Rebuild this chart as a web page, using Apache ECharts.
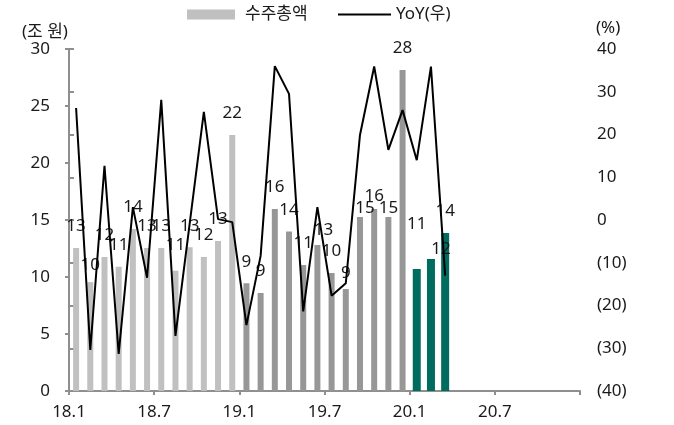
<!DOCTYPE html>
<html>
<head>
<meta charset="utf-8">
<script src="https://cdn.jsdelivr.net/npm/echarts@6/dist/echarts.min.js"></script>
<style>
html,body{margin:0;padding:0;background:#fff;}
#chart{width:674px;height:425px;}
</style>
</head>
<body>
<div id="chart"></div>
<script>
// ---- data ----
var months = ['18.1','18.2','18.3','18.4','18.5','18.6','18.7','18.8','18.9','18.10','18.11','18.12',
              '19.1','19.2','19.3','19.4','19.5','19.6','19.7','19.8','19.9','19.10','19.11','19.12',
              '20.1','20.2','20.3'];
var orders = [12.55, 9.55, 11.75, 10.9, 14.2, 12.55, 12.55, 10.55, 12.6, 11.75, 13.15, 22.45,
              9.45, 8.6, 15.96, 14.0, 11.05, 12.8, 10.35, 8.95, 15.26, 15.96, 15.26, 28.16,
              10.7, 11.58, 13.86];
var yoy = [26.2, -30.4, 12.7, -31.3, 3.0, -13.5, 28.1, -27.1, -0.9, 25.3, 0.2, -0.5,
           -24.6, -8.4, 36.0, 29.5, -21.4, 3.0, -17.7, -14.8, 19.9, 35.9, 16.4, 25.7,
           14.0, 35.9, -13.0];
var xTickLabels = ['18.1','18.7','19.1','19.7','20.1','20.7',''];
var seriesNames = ['수주총액', 'YoY(우)'];

// ---- styles ----
var FONT = '"Noto Sans", "Noto Sans CJK KR", sans-serif';
var TXT = '#1a1a1a';
var AX = '#8f8f8f';
var colorLight = '#c0c0c0', colorDark = '#979797', colorTeal = '#006b5f';
var labelShift = {1:[0,5], 7:[0,-4], 17:[6,7], 19:[0,6], 20:[5,13], 21:[0,9], 22:[0,13], 24:[0,-23], 25:[10,12]};

function yearOf(m){ return m.split('.')[0]; }

var grayData = [], tealData = [], lineData = [];
months.forEach(function(m, i){
  var x = i + 0.5;
  var yr = yearOf(m);
  var item = {value:[x, orders[i]]};
  if (labelShift[i]) item.label = {offset: labelShift[i]};
  if (yr === '20') {
    tealData.push(item);
  } else {
    item.itemStyle = {color: yr === '18' ? colorLight : colorDark};
    grayData.push(item);
  }
  lineData.push([x, yoy[i]]);
});

var barLabel = {
  show: true, position: 'top', distance: 13,
  fontFamily: FONT, fontSize: 17, color: TXT,
  formatter: function(p){ return String(Math.round(p.value[1])); }
};

var chart = echarts.init(document.getElementById('chart'), null, {renderer:'canvas'});
chart.setOption({
  animation: false,
  backgroundColor: '#fff',
  textStyle: {fontFamily: FONT},
  grid: {left: 69, right: 94, top: 49, bottom: 34},
  legend: [{
    left: 187, top: 6, padding: 0, itemWidth: 48, itemHeight: 10,
    textStyle: {fontFamily: FONT, fontSize: 17, color: TXT, padding: [0,0,0,5]},
    data: [{name: seriesNames[0], icon: 'rect'}]
  }, {
    left: 338, top: 6, padding: 0, itemWidth: 53, itemHeight: 2,
    textStyle: {fontFamily: FONT, fontSize: 17, color: TXT, padding: [0,0,0,0]},
    data: [{name: seriesNames[1], icon: 'rect'}]
  }],
  xAxis: [{
    type: 'value', min: 0, max: 36, interval: 6,
    axisLine: {show: true, lineStyle: {color: AX, width: 2}},
    axisTick: {show: true, length: 4, lineStyle: {color: AX, width: 2}},
    splitLine: {show: false},
    axisLabel: {
      fontFamily: FONT, fontSize: 17, color: TXT, margin: 13,
      formatter: function(v){ return xTickLabels[Math.round(v/6)] || ''; }
    }
  }, {
    type: 'value', min: 0, max: 36, interval: 6, show: false, position: 'bottom'
  }],
  yAxis: [{
    type: 'value', min: 0, max: 30, interval: 5,
    axisLine: {show: true, lineStyle: {color: AX, width: 2}},
    axisTick: {show: true, length: 4, lineStyle: {color: AX, width: 2}},
    splitLine: {show: false},
    axisLabel: {fontFamily: FONT, fontSize: 17, color: TXT, margin: 19}
  }, {
    type: 'value', min: -40, max: 40, interval: 10,
    axisLine: {show: true, lineStyle: {color: AX, width: 2}},
    axisTick: {show: true, length: 5, lineStyle: {color: AX, width: 2}},
    splitLine: {show: false},
    axisLabel: {
      fontFamily: FONT, fontSize: 17, color: TXT, margin: 17,
      formatter: function(v){ return v < 0 ? '(' + (-v) + ')' : String(v); }
    }
  }],
  graphic: [
    {type: 'text', left: 22, top: 24, style: {text: '(조 원)', font: '17px ' + FONT, fill: TXT}},
    {type: 'text', left: 596, top: 20, style: {text: '(%)', font: '17px ' + FONT, fill: TXT}}
  ],
  series: [{
    name: seriesNames[0], type: 'bar', barWidth: 6, xAxisIndex: 0,
    itemStyle: {color: colorLight},
    label: barLabel,
    data: grayData, z: 2
  }, {
    name: '2020', type: 'bar', barWidth: 8, xAxisIndex: 1,
    itemStyle: {color: colorTeal},
    label: barLabel,
    data: tealData, z: 2
  }, {
    name: seriesNames[1], type: 'line', yAxisIndex: 1, xAxisIndex: 0,
    symbol: 'none', lineStyle: {color: '#000', width: 2}, itemStyle: {color: '#000'},
    data: lineData, z: 3
  }]
});
</script>
</body>
</html>
